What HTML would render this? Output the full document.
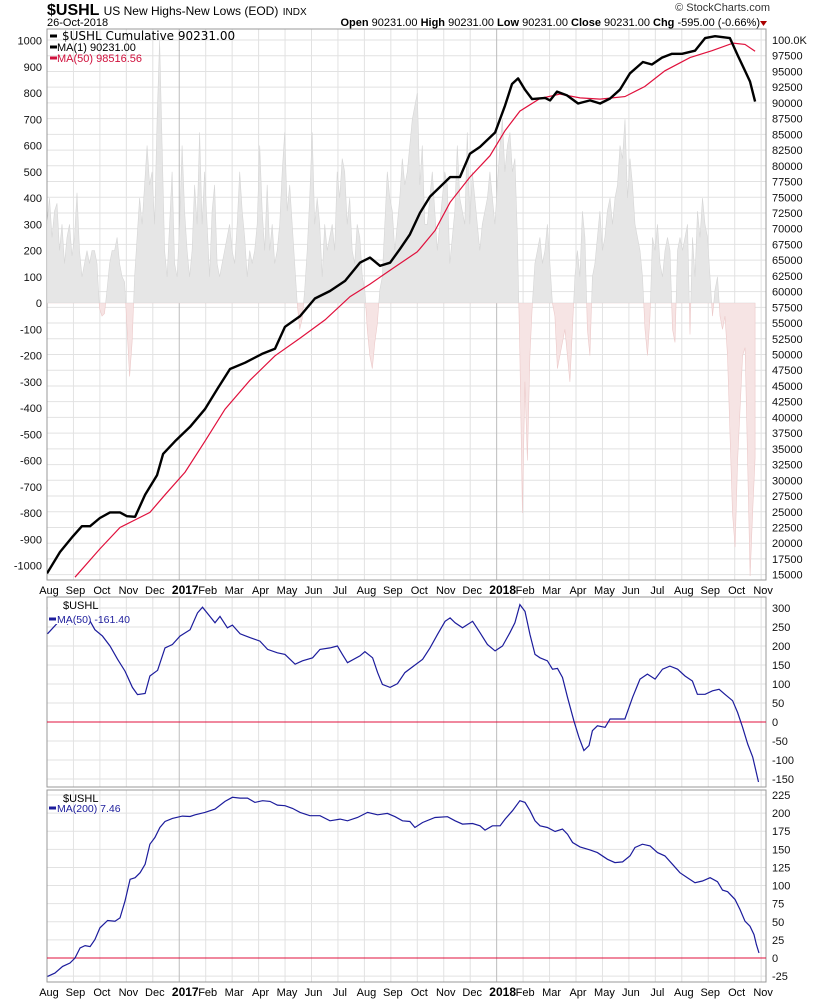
<!DOCTYPE html>
<html><head><meta charset="utf-8"><style>
body{margin:0;background:#fff}
svg{display:block;font-family:"Liberation Sans",sans-serif}
</style></head><body>
<svg id="c" width="820" height="1000" viewBox="0 0 820 1000" xmlns="http://www.w3.org/2000/svg">
<text x="47" y="15" font-size="16" font-weight="bold">$USHL <tspan font-size="12" font-weight="normal">US New Highs-New Lows (EOD)</tspan> <tspan font-size="10" font-weight="normal">INDX</tspan></text>
<text x="47" y="26" font-size="11">26-Oct-2018</text>
<text x="770" y="11" font-size="11" text-anchor="end" fill="#333">© StockCharts.com</text>
<text x="760" y="26" font-size="11" text-anchor="end"><tspan font-weight="bold">Open</tspan> 90231.00 <tspan font-weight="bold">High</tspan> 90231.00 <tspan font-weight="bold">Low</tspan> 90231.00 <tspan font-weight="bold">Close</tspan> 90231.00 <tspan font-weight="bold">Chg</tspan> -595.00 (-0.66%)</text>
<path d="M760,21 l7,0 l-3.5,5z" fill="#a00"/>
<g id="g"></g>
</svg>
<script>
// ===== data =====
const monthLabels=["Aug","Sep","Oct","Nov","Dec","2017","Feb","Mar","Apr","May","Jun","Jul","Aug","Sep","Oct","Nov","Dec","2018","Feb","Mar","Apr","May","Jun","Jul","Aug","Sep","Oct","Nov"];
const leftTicks=[1000,900,800,700,600,500,400,300,200,100,0,-100,-200,-300,-400,-500,-600,-700,-800,-900,-1000];
const rightTicks=[100,97.5,95,92.5,90,87.5,85,82.5,80,77.5,75,72.5,70,67.5,65,62.5,60,57.5,55,52.5,50,47.5,45,42.5,40,37.5,35,32.5,30,27.5,25,22.5,20,17.5,15];
const p2Ticks=[300,250,200,150,100,50,0,-50,-100,-150];
const p3Ticks=[225,200,175,150,125,100,75,50,25,0,-25];
// months since Aug 1 2016
const cumT=[0,0.49,0.98,1.32,1.63,2.0,2.38,2.76,3.02,3.33,3.71,4.16,4.39,4.84,5.41,5.97,6.47,6.92,7.49,8.13,8.62,9.0,9.57,10.13,10.7,11.27,11.83,12.21,12.59,12.97,13.35,13.72,14.1,14.48,14.97,15.24,15.61,15.99,16.37,16.94,17.32,17.58,17.81,18.07,18.34,18.83,19.02,19.28,19.66,20.08,20.53,20.91,21.29,21.66,22.04,22.53,22.87,23.25,23.63,24.01,24.5,24.88,25.26,25.82,26.12,26.39,26.58,26.77];
const cumV=[15.2,18.6,21.1,22.7,22.7,24.0,24.9,24.9,24.3,24.2,27.7,30.8,34.2,36.2,38.5,41.3,44.7,47.7,48.7,50.1,50.9,54.4,56.1,58.9,60.1,61.7,64.6,65.4,64.1,64.6,66.8,69.1,72.5,75.1,77.1,78.2,78.2,81.9,83.0,85.3,89.6,93.0,93.9,92.1,90.6,90.8,90.4,91.8,91.2,89.9,90.4,89.9,90.7,92.1,94.7,96.5,96.1,97.2,97.8,97.8,98.3,100.3,100.6,100.3,97.5,95.1,93.4,90.2];
const maT=[1.06,2.0,2.76,3.33,3.89,4.46,5.22,5.97,6.73,7.67,8.62,9.57,10.51,11.46,12.21,12.97,13.99,14.1,14.67,15.24,15.99,16.75,17.32,17.88,18.64,19.4,20.15,20.91,21.85,22.6,23.36,24.31,25.14,25.94,26.39,26.77];
const maV=[14.6,19.1,22.5,23.7,24.9,27.7,31.3,36.2,41.3,45.9,49.8,52.6,55.5,59.2,61.2,63.4,66.3,66.8,69.7,74.2,78.2,81.6,85.6,88.7,90.7,91.4,90.8,90.6,91.0,92.6,95.1,97.2,98.3,99.5,99.3,98.2];
const histStart=0, histEnd=26.77;
const histV=[300,400,250,350,380,200,300,150,250,300,180,250,420,200,100,150,200,150,200,200,150,-20,-50,-40,50,150,200,200,250,150,100,80,-100,-280,-150,100,250,400,300,450,600,450,500,300,700,1000,600,200,100,300,500,150,100,300,600,350,200,100,200,450,300,650,300,500,300,100,350,450,150,100,150,200,250,300,200,150,300,500,350,250,100,200,150,200,300,600,350,200,450,200,300,150,200,300,500,650,350,450,300,150,0,-100,-60,50,200,400,650,300,400,300,100,300,200,250,300,200,500,400,550,500,300,400,200,150,300,250,100,50,-100,-200,-250,-150,-80,50,100,300,500,400,350,200,300,400,550,450,500,600,700,750,800,450,600,300,300,400,500,350,200,300,400,500,450,150,250,350,600,400,350,300,650,300,500,400,300,200,300,350,400,500,400,300,450,600,700,500,600,650,500,550,250,-200,-800,-300,-600,-200,0,150,200,250,150,200,300,150,0,-50,-250,-200,-150,-100,-200,-300,-100,100,200,100,350,250,-100,-200,100,150,250,350,200,250,350,400,300,400,450,600,550,700,400,550,450,300,250,200,100,-100,-200,-50,250,200,300,150,100,200,250,200,-100,-150,200,250,200,250,300,-120,250,100,350,250,400,300,250,100,-50,50,100,-50,-100,-50,-200,-500,-800,-930,-600,-400,-200,-170,-600,-1040,-800,-590];
const ma50T=[0.02,0.40,0.59,0.78,0.87,1.59,1.81,2.1,2.38,2.67,2.95,3.23,3.42,3.71,3.89,4.18,4.46,4.74,5.03,5.41,5.69,5.88,6.16,6.35,6.54,6.82,7.01,7.3,7.67,8.05,8.34,8.71,9.0,9.38,9.66,10.04,10.32,10.7,10.98,11.17,11.36,11.83,12.02,12.31,12.5,12.68,12.97,13.25,13.53,13.82,14.2,14.48,14.76,15.05,15.24,15.43,15.71,16.09,16.37,16.65,16.94,17.22,17.5,17.69,17.88,18.07,18.26,18.45,18.64,18.92,19.11,19.3,19.49,19.68,19.92,20.11,20.3,20.49,20.62,20.81,21.1,21.29,21.57,21.85,22.14,22.42,22.7,22.99,23.27,23.55,23.84,24.12,24.4,24.59,24.88,25.16,25.41,25.63,25.92,26.11,26.3,26.49,26.68,26.9];
const ma50V=[232,261,270,258,270,270,243,226,200,165,134,91,72,75,121,136,195,204,226,243,287,302,278,261,278,248,255,232,222,213,191,182,178,152,161,169,191,195,200,178,156,174,185,169,130,99,91,101,130,145,165,195,230,265,274,261,248,265,235,204,187,200,235,261,309,291,230,178,169,161,139,141,117,65,3,-40,-75,-62,-23,-10,-14,8,8,8,65,113,126,113,139,147,139,121,108,73,73,82,86,73,56,25,-14,-58,-92,-158];
const ma200T=[0.02,0.30,0.59,0.87,1.06,1.25,1.44,1.63,1.81,2.0,2.29,2.57,2.76,2.95,3.14,3.33,3.52,3.71,3.89,4.08,4.27,4.46,4.74,5.12,5.41,5.6,5.97,6.35,6.73,7.01,7.3,7.58,7.86,8.15,8.43,8.71,9.0,9.28,9.57,9.94,10.32,10.7,11.08,11.36,11.74,12.12,12.5,12.87,13.16,13.44,13.72,13.91,14.2,14.67,15.14,15.43,15.71,16.09,16.37,16.56,16.84,17.13,17.32,17.6,17.88,18.07,18.26,18.45,18.64,18.92,19.21,19.49,19.68,19.87,20.15,20.53,20.81,21.19,21.47,21.76,22.04,22.23,22.51,22.8,23.08,23.36,23.65,23.93,24.21,24.5,24.78,25.07,25.35,25.54,25.73,26.01,26.2,26.39,26.58,26.73,26.82,26.92];
const ma200V=[-25.4,-20.8,-11.6,-6.9,0,13.9,17.1,15.7,25.4,41.6,51.7,50.8,55.4,78.5,108.6,110.9,117.8,129.4,157.1,166.3,180.2,188.5,192.7,195.9,195.4,197.7,201,205.6,216.2,221.8,220.8,220.8,214.8,217.1,216.2,211.1,210.2,206.5,201,196.4,196.4,189.4,191.7,189.4,194,201,197.7,199.6,195,189.4,188.5,180.2,187.1,194,195,189.4,184.8,185.7,182.5,176.5,182.5,182.5,191.7,203.3,217.1,214.8,203.3,189.4,182.5,180.2,174.6,177.9,170.9,159.4,153.4,149.2,145.5,136.3,131.7,132.6,140.9,152.5,157.1,154.8,145.5,140.9,129.4,117.8,110.9,104,106.3,110.9,105.3,93.8,91.5,80.9,67,50.8,43.9,32.3,18.5,6.9];

// ===== scales =====
const X0=47, XR=766, PXM=26.45;
const xT=t=>X0+t*PXM;
const P1={top:29,bot:580}, P2={top:597,bot:787}, P3={top:790,bot:982};
const yL=v=>303-v*0.2625;
const yR=k=>40+(100-k)*6.29;
const y2=v=>722-v*0.38;
const y3=v=>958-v*0.7244;

const NS="http://www.w3.org/2000/svg";
const g=document.getElementById('g');
function mk(tag,attrs,parent){const e=document.createElementNS(NS,tag);for(const k in attrs)e.setAttribute(k,attrs[k]);(parent||g).appendChild(e);return e;}
function txt(x,y,s,attrs,parent){const e=mk('text',Object.assign({x:x,y:y,'font-size':11},attrs),parent);e.textContent=s;return e;}
function pathOf(ts,vs,fy){return ts.map((t,i)=>(i?'L':'M')+xT(t).toFixed(1)+','+fy(vs[i]).toFixed(1)).join('');}

// clip paths
const defs=mk('defs',{});
[['c1',P1],['c2',P2],['c3',P3]].forEach(([id,P])=>{const cp=mk('clipPath',{id:id},defs);mk('rect',{x:X0,y:P.top,width:XR-X0,height:P.bot-P.top},cp);});
const cpUp=mk('clipPath',{id:'up'},defs);mk('rect',{x:X0,y:P1.top,width:XR-X0,height:303-P1.top},cpUp);
const cpDn=mk('clipPath',{id:'dn'},defs);mk('rect',{x:X0,y:303,width:XR-X0,height:P1.bot-303},cpDn);

function panelGrid(P,name,ticks,fy,fmt){
  const grid=mk('g',{});
  
  
  ticks.forEach(v=>{const y=fy(v);mk('line',{x1:X0,x2:XR,y1:y,y2:y,stroke:'#e2e2e2','stroke-width':1},grid);
    const l=txt(772,y+4,fmt(v),{fill:'#111'},grid);
    
    });
  monthLabels.forEach((m,i)=>{const x=xT(i);if(x>XR)return;const yr=(m==='2017'||m==='2018');
    mk('line',{x1:x,x2:x,y1:P.top,y2:P.bot,stroke:yr?'#bdbdbd':'#e2e2e2','stroke-width':1},grid);});
  const fr=mk('rect',{x:X0,y:P.top,width:XR-X0,height:P.bot-P.top,fill:'none',stroke:'#999','stroke-width':1});
  
  
}
function xLabels(y,name){
  const gx=mk('g',{});
  
  
  monthLabels.forEach((m,i)=>{const yr=(m==='2017'||m==='2018');
    const t=txt(xT(i)+(yr?6:2),y,m,{'text-anchor':'middle','font-weight':yr?'bold':'normal','font-size':yr?12:11},gx);
    
    });
}

// ===== Panel 1 =====
panelGrid(P1,'main-panel',rightTicks,yR,v=>v===100?'100.0K':String(Math.round(v*1000)));
leftTicks.forEach(v=>{const t=txt(42,yL(v)+4,String(v),{'text-anchor':'end',fill:'#111'});
  
  });
// histogram area
const hStep=(histEnd-histStart)/(histV.length-1);
const histT=histV.map((v,i)=>histStart+i*hStep);
let hd='M'+xT(histT[0])+','+yL(0)+histT.map((t,i)=>'L'+xT(t).toFixed(1)+','+yL(histV[i]).toFixed(1)).join('')+'L'+xT(histT[histT.length-1])+','+yL(0)+'Z';
const hg=mk('g',{'clip-path':'url(#c1)'});
const hUp=mk('path',{d:hd,fill:'#e6e6e6',stroke:'#d6d6d6','stroke-width':0.6,'clip-path':'url(#up)'},hg);


const hDn=mk('path',{d:hd,fill:'#f6e4e4',stroke:'#ecc9c9','stroke-width':0.6,'clip-path':'url(#dn)'},hg);


const lg=mk('g',{'clip-path':'url(#c1)'});
const ma50L=mk('path',{d:pathOf(maT,maV,yR),fill:'none',stroke:'#e0103c','stroke-width':1.2},lg);


const cumL=mk('path',{d:pathOf(cumT,cumV,yR),fill:'none',stroke:'#000','stroke-width':2.4,'stroke-linejoin':'round'},lg);


// legend
const leg=[['$USHL Cumulative 90231.00','#000'],['MA(1) 90231.00','#000'],['MA(50) 98516.56','#d0103c']];
leg.forEach((l,i)=>{const y=40+i*11;
  const d=mk('line',{x1:50,x2:57,y1:y-4,y2:y-4,stroke:l[1],'stroke-width':3});
  
  
  const t=txt(59-(i?2:0)+(i?0:3),y,l[0],{fill:l[1],'font-size':i?11:12,'font-family':i?'Liberation Sans, sans-serif':'DejaVu Sans, sans-serif'});
  
  });
xLabels(594,'main-x-axis');

// ===== Panel 2 =====
panelGrid(P2,'ma50-panel',p2Ticks,y2,v=>String(v));
const z2=mk('line',{x1:X0,x2:XR,y1:y2(0),y2:y2(0),stroke:'#e0103c','stroke-width':1});


const l2=mk('path',{d:pathOf(ma50T,ma50V,y2),fill:'none',stroke:'#1c1c9c','stroke-width':1.2,'clip-path':'url(#c2)'});


const bg2=mk('rect',{x:48,y:598,width:42,height:26,fill:'#fff'});


const t2a=txt(63,609,'$USHL',{});
const s2=mk('line',{x1:49,x2:56,y1:619,y2:619,stroke:'#1c1c9c','stroke-width':3});
const t2b=txt(57,623,'MA(50) -161.40',{fill:'#1c1c9c','font-size':10.5});

// ===== Panel 3 =====
panelGrid(P3,'ma200-panel',p3Ticks,y3,v=>String(v));
const z3=mk('line',{x1:X0,x2:XR,y1:y3(0),y2:y3(0),stroke:'#e0103c','stroke-width':1});


const l3=mk('path',{d:pathOf(ma200T,ma200V,y3),fill:'none',stroke:'#1c1c9c','stroke-width':1.2,'clip-path':'url(#c3)'});


const t3a=txt(63,802,'$USHL',{});
const s3=mk('line',{x1:49,x2:56,y1:808,y2:808,stroke:'#1c1c9c','stroke-width':3});
const t3b=txt(57,812,'MA(200) 7.46',{fill:'#1c1c9c','font-size':10.5});
xLabels(996,'bottom-x-axis');
</script>
</body></html>
